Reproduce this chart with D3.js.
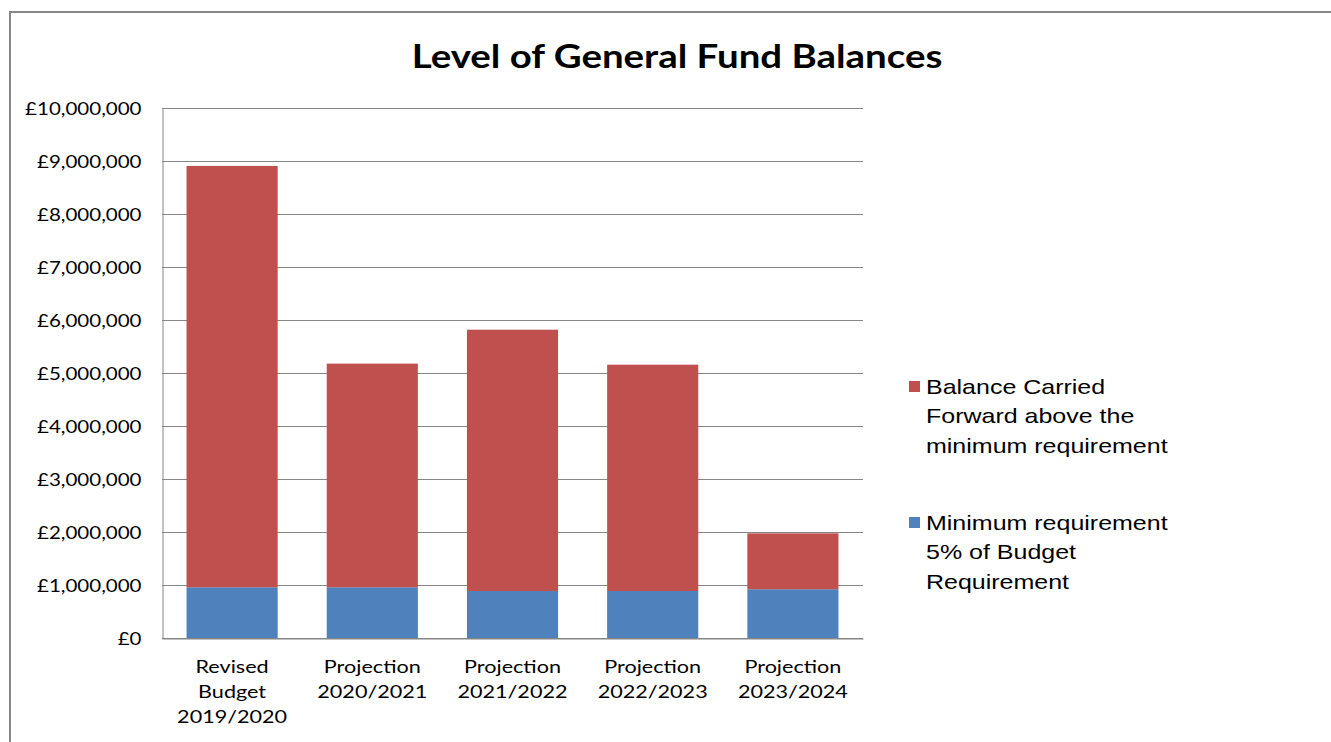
<!DOCTYPE html>
<html><head><meta charset="utf-8">
<script src="https://cdn.jsdelivr.net/npm/d3@7"></script>
<style>
html,body{margin:0;padding:0;background:#fff;}
svg{display:block;}
</style></head>
<body>
<svg id="chart" width="1331" height="742"></svg>
<script>
const categories = [["Revised","Budget","2019/2020"],["Projection","2020/2021"],["Projection","2021/2022"],["Projection","2022/2023"],["Projection","2023/2024"]];
const minimumRequirement = [957000, 957000, 887000, 887000, 920000];
const balanceAbove = [7950000, 4220000, 4930000, 4270000, 1055000];
const seriesNames = ["Balance Carried Forward above the minimum requirement", "Minimum requirement 5% of Budget Requirement"];
const legendLines = [["Balance Carried","Forward above the","minimum requirement"],["Minimum requirement","5% of Budget","Requirement"]];
const yTicks = [0,1000000,2000000,3000000,4000000,5000000,6000000,7000000,8000000,9000000,10000000];
const title = "Level of General Fund Balances";

const colors = {min:"#4F81BD", above:"#C0504D"};
const svg = d3.select("#chart");
const plot = {left:162, right:863, top:108, bottom:638};
const FONT = "Lato, Carlito, Calibri, sans-serif";

// frame
svg.append("rect").attr("x",10).attr("y",12).attr("width",1340).attr("height",760)
  .attr("fill","none").attr("stroke","#868686").attr("stroke-width",2);

svg.append("text").attr("transform","translate(677,68) scale(1.165,1)").attr("text-anchor","middle")
  .attr("font-family",FONT).attr("font-weight","bold")
  .attr("font-size",33).attr("fill","#000").text(title);

const x = d3.scaleBand().domain(d3.range(categories.length)).range([plot.left, plot.right])
  .paddingInner(0.35).paddingOuter(0.175);
const y = d3.scaleLinear().domain([0,10000000]).range([plot.bottom, plot.top]);

const fmt = v => "£" + d3.format(",")(v);

// gridlines
svg.append("g").selectAll("line").data(yTicks).join("line")
  .attr("x1",plot.left).attr("x2",plot.right)
  .attr("y1",d=>y(d)+0.5).attr("y2",d=>y(d)+0.5)
  .attr("stroke","#868686").attr("stroke-width",1);

// y axis
const yAxis = d3.axisLeft(y).tickValues(yTicks).tickFormat(fmt).tickSize(0).tickPadding(21);
const gy = svg.append("g").attr("transform",`translate(${plot.left+0.5},0.5)`).call(yAxis);
gy.select(".domain").attr("stroke","#868686");
gy.selectAll("text").attr("font-family",FONT).attr("font-size",18).attr("fill","#000")
  .attr("x",0).attr("transform","translate(-21,0) scale(1.14,1)");

// stacked bars
const data = categories.map((c,i)=>({i, min:minimumRequirement[i], above:balanceAbove[i]}));
const stack = d3.stack().keys(["min","above"])(data);
svg.append("g").selectAll("g").data(stack).join("g")
  .attr("fill",d=>colors[d.key])
  .selectAll("rect").data(d=>d).join("rect")
  .attr("x",(d,i)=>x(i)).attr("width",x.bandwidth())
  .attr("y",d=>y(d[1])).attr("height",d=>y(d[0])-y(d[1]));

// x axis
const xAxis = d3.axisBottom(x).tickSize(0).tickFormat("");
const gx = svg.append("g").attr("transform",`translate(0,${plot.bottom+0.5})`).call(xAxis);
gx.select(".domain").attr("stroke","#868686");

const labels = svg.append("g").selectAll("text").data(categories).join("text")
  .attr("font-family",FONT).attr("font-size",18).attr("fill","#000")
  .attr("text-anchor","middle")
  .attr("transform",(d,i)=>`translate(${x(i)+x.bandwidth()/2},0) scale(1.2,1)`);
labels.each(function(lines,i){
  const t = d3.select(this);
  lines.forEach((l,k)=>{
    t.append("tspan").attr("x",0).attr("y",673+k*25).text(l);
  });
});

// legend
const legend = [{key:"above", y:381, lines:legendLines[0], name:seriesNames[0]},{key:"min", y:517, lines:legendLines[1], name:seriesNames[1]}];
const lg = svg.append("g").selectAll("g").data(legend).join("g");
lg.append("rect").attr("x",909).attr("y",d=>d.y).attr("width",11).attr("height",11).attr("fill",d=>colors[d.key]);
lg.append("text").attr("font-family","'Liberation Sans', Arial, sans-serif").attr("font-size",21).attr("fill","#000")
  .attr("transform","translate(926,0) scale(1.19,1)")
  .each(function(d){
    const t=d3.select(this);
    d.lines.forEach((l,k)=>t.append("tspan").attr("x",0).attr("y",d.y+13+k*29.5).text(l));
  });
</script>
</body></html>
